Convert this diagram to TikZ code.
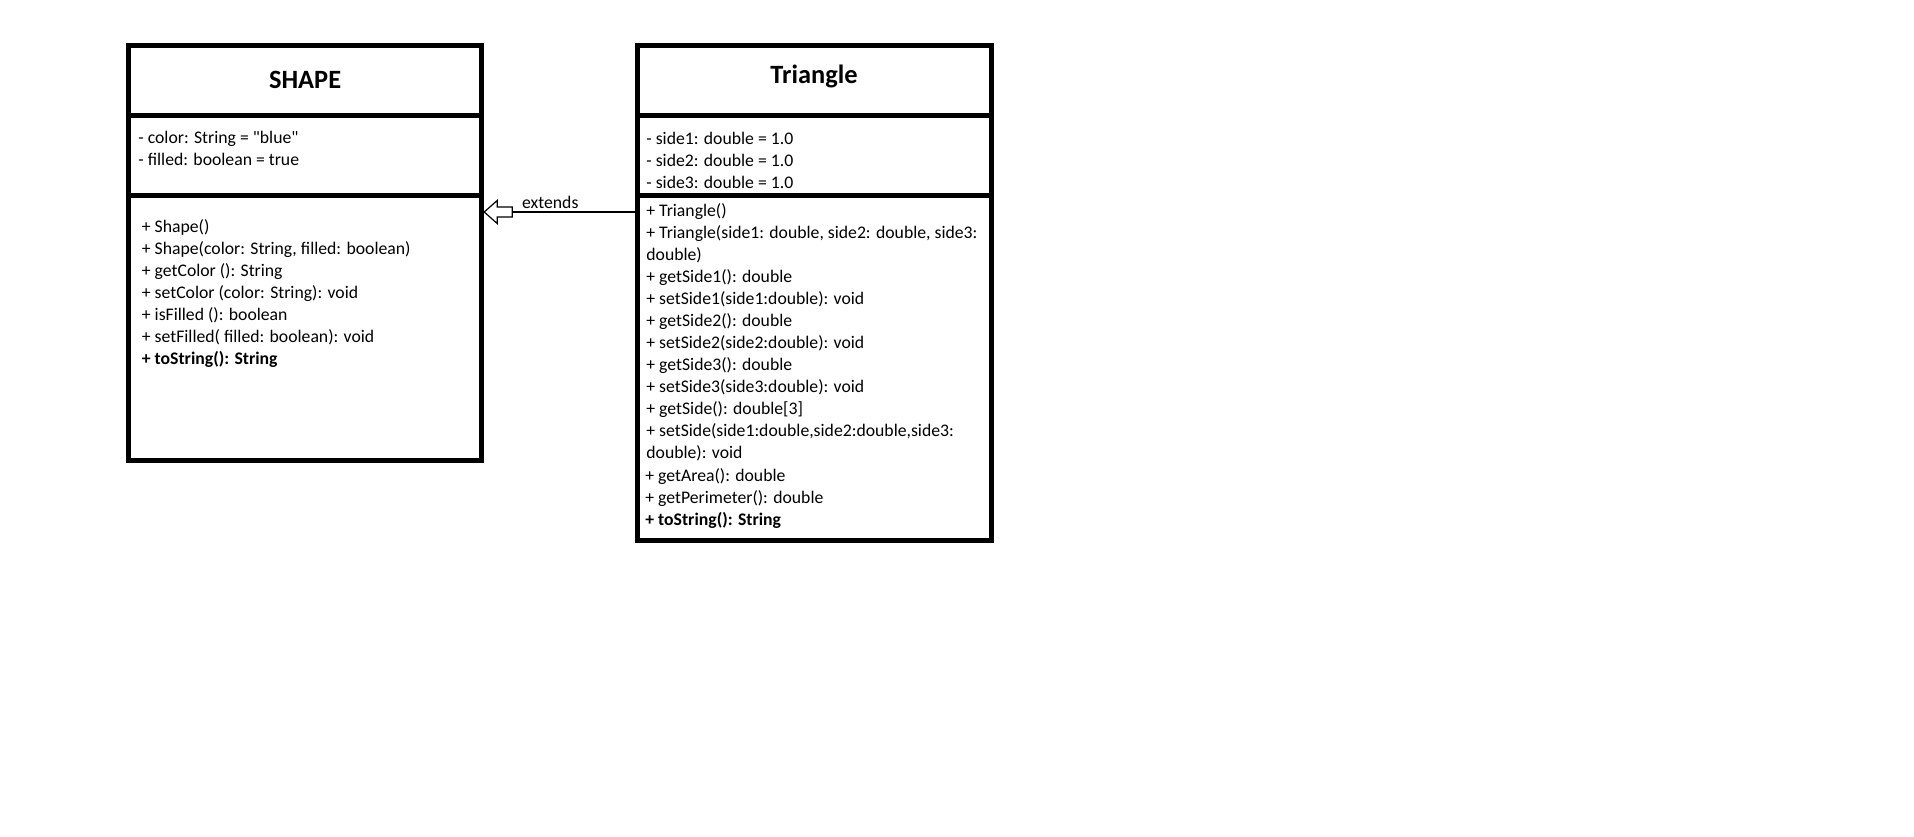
\documentclass[tikz,border=0pt]{standalone}
\usepackage{fontspec}
\setmainfont{Carlito}
\newfontfamily\umlfont{Carlito}
\usetikzlibrary{positioning}

\tikzset{
  compart/.style={draw, line width=2.5pt, inner sep=0pt, outer sep=0pt},
  member/.style={anchor=base west, inner sep=0pt, font=\umlfont\fontsize{8.85}{10.85}\selectfont},
  classname/.style={anchor=base, inner sep=0pt, font=\umlfont\bfseries\fontsize{13.2}{15}\selectfont},
  thinline/.style={line width=0.6pt},
}

\begin{document}
\begin{tikzpicture}[x=0.5pt,y=-0.5pt]
    \useasboundingbox (0,0) rectangle (1914,836);

    % SHAPE class
    \node[compart, minimum width=176.6pt, minimum height=34.6pt] (shapeHead) at (305.1,80.4) {};
    \node[compart, minimum width=176.6pt, minimum height=40.4pt, below=0pt of shapeHead] (shapeAttr) {};
    \node[compart, minimum width=176.6pt, minimum height=132.5pt, below=0pt of shapeAttr] (shapeOps) {};
    \node[classname] (shapeName) at (305.1,88.3) {SHAPE};

    \foreach \m [count=\i] in {{- color: String = "blue"}, {- filled: boolean = true}}
        \node[member] (sa\i) at (138,{143+22*(\i-1)}) {\m};
    \foreach \m [count=\i] in {{+ Shape()}, {+ Shape(color: String, filled: boolean)},
        {+ getColor (): String}, {+ setColor (color: String): void},
        {+ isFilled (): boolean}, {+ setFilled( filled: boolean): void}}
        \node[member] (so\i) at (141.5,{232+22*(\i-1)}) {\m};
    \node[member, font=\umlfont\bfseries\fontsize{8.85}{10.85}\selectfont] (so7) at (141.5,364) {+ toString(): String};

    % Triangle class
    \node[compart, minimum width=177pt, minimum height=34.6pt] (triHead) at (814,80.4) {};
    \node[compart, minimum width=177pt, minimum height=40.4pt, below=0pt of triHead] (triAttr) {};
    \node[compart, minimum width=177pt, minimum height=172.1pt, below=0pt of triAttr] (triOps) {};
    \node[classname] (triName) at (814,83.5) {Triangle};

    \foreach \m [count=\i] in {{- side1: double = 1.0}, {- side2: double = 1.0}, {- side3: double = 1.0}}
        \node[member] (ta\i) at (646,{144+22*(\i-1)}) {\m};
    \foreach \m [count=\i] in {{+ Triangle()}, {+ Triangle(side1: double, side2: double, side3:}, {double)},
        {+ getSide1(): double}, {+ setSide1(side1:double): void},
        {+ getSide2(): double}, {+ setSide2(side2:double): void},
        {+ getSide3(): double}, {+ setSide3(side3:double): void},
        {+ getSide(): double[3]}, {+ setSide(side1:double,side2:double,side3:}, {double): void}}
        \node[member] (to\i) at (646,{216+22*(\i-1)}) {\m};
    \foreach \m [count=\i from 13] in {{+ getArea(): double}, {+ getPerimeter(): double}}
        \node[member] (to\i) at (645,{481+22*(\i-13)}) {\m};
    \node[member, font=\umlfont\bfseries\fontsize{8.85}{10.85}\selectfont] (to15) at (645,525) {+ toString(): String};

    % extends
    \coordinate (extTail) at ([yshift=-8.1pt]triOps.north west);
    \coordinate (extTip) at ([xshift=1.25pt]shapeOps.east |- extTail);
    \coordinate (extBack) at ([xshift=14pt]extTip);
    \draw[thinline] (extTail) -- (extBack);
    \draw[thinline, line join=miter] (extTip) -- ++(13,-11.5) -- ++(0,6.5) -- ++(15,0) -- ++(0,10)
        -- ++(-15,0) -- ++(0,6.5) -- cycle;
    \node[member] (extLabel) at (521.7,208.3) {extends};
\end{tikzpicture}
\end{document}
